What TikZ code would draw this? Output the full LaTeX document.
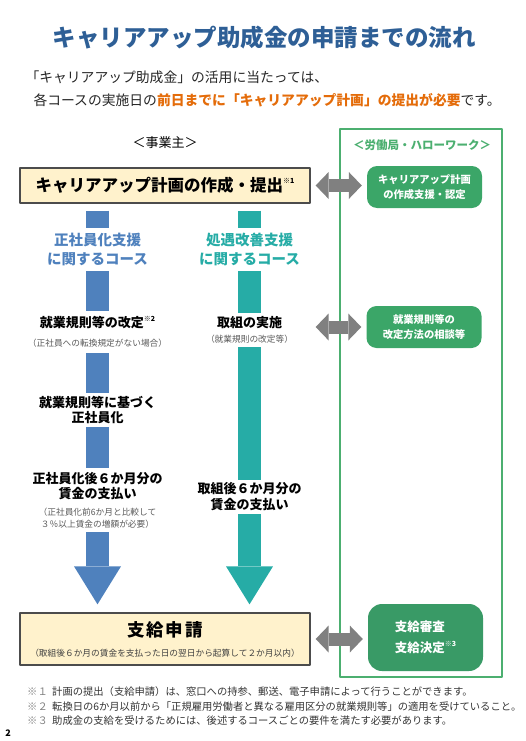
\documentclass[tikz,border=0pt]{standalone}
\usepackage{fontspec}
\setmainfont{Noto Sans CJK JP}
\usetikzlibrary{arrows.meta}
\definecolor{titleblue}{RGB}{46,95,150}
\definecolor{barblue}{RGB}{79,129,189}
\definecolor{barteal}{RGB}{38,172,166}
\definecolor{boxgreen}{RGB}{59,166,104}
\definecolor{boxgreendark}{RGB}{57,154,102}
\definecolor{framegreen}{RGB}{76,175,112}
\definecolor{planyellow}{RGB}{255,242,204}
\definecolor{notegray}{RGB}{89,89,89}
\definecolor{accent}{RGB}{228,108,10}
\newcommand\noteref[1]{\raisebox{0.5em}{\fontsize{7}{7}\selectfont ※#1}}
\newcommand\notefont{\fontsize{8.7}{10}\selectfont\mdseries\color{notegray}}
\newcommand\notemark[1]{\makebox[25pt][l]{\color{black!50}#1}}

\begin{document}
\begin{tikzpicture}[x=1pt,y=-1pt,line join=round,
  stepnode/.style={inner sep=0pt,align=center,font=\fontsize{13}{15}\selectfont\bfseries},
  coursenode/.style={inner sep=0pt,align=center,minimum height=43pt,font=\fontsize{14.5}{19}\selectfont\bfseries},
  office/.style={fill=boxgreen,rounded corners=10pt,minimum width=115pt,minimum height=42pt,inner sep=0pt,align=center,text=white,font=\fontsize{10.3}{15}\selectfont\bfseries},
  yellowbox/.style={draw=black!70,line width=1.3pt,fill=planyellow,minimum width=290pt,inner sep=0pt},
  barA/.style={draw=barblue,line width=23pt},
  barB/.style={draw=barteal,line width=23pt},
  bighead/.style={-{Triangle[width=47pt,length=38pt,line width=0pt]}},
  twoway/.style={draw=black!50,line width=13pt,{Triangle[width=27pt,length=13pt,line width=0pt]}-{Triangle[width=27pt,length=13pt,line width=0pt]},shorten <=5pt,shorten >=5pt},
  fnote/.style={anchor=west,inner sep=0pt,font=\fontsize{10.3}{12}\selectfont,text=black!80}]
  \useasboundingbox (0,0) rectangle (525,741);
  % heading
  \node[font=\fontsize{23.5}{28}\selectfont\bfseries,text=titleblue] (title) at (264,38) {キャリアアップ助成金の申請までの流れ};
  \node[anchor=west,font=\fontsize{13.8}{16}\selectfont,text=black!85] (intro1) at (22,77) {「キャリアアップ助成金」の活用に当たっては、};
  \node[anchor=west,font=\fontsize{13.8}{16}\selectfont,text=black!85] (intro2) at (30,100) {各コースの実施日の\textcolor{accent}{\bfseries 前日までに「キャリアアップ計画」の提出が必要}です。};
  \node[font=\fontsize{13}{15}\selectfont] (employer) at (165,143) {＜事業主＞};
  \draw[framegreen,line width=1.2pt] (340,129) rectangle (502,677);
  \node[text=framegreen,font=\fontsize{11.5}{14}\selectfont\bfseries] (bureau) at (422,145) {＜労働局・ハローワーク＞};
  % plan
  \node[yellowbox,minimum height=35pt,font=\fontsize{16.5}{20}\selectfont\bfseries] (plan) at (165,185.5) {キャリアアップ計画の作成・提出\noteref{1}};
  \node[office] (support1) at (424.5,187) {キャリアアップ計画\\の作成支援・認定};
  \draw[twoway] (plan.east) -- (plan.east -| support1.west);
  % two courses
  \node[coursenode,text=barblue] (courseA) at (97.5,249.5) {正社員化支援\\に関するコース};
  \node[coursenode,text=barteal] (courseB) at (249.5,249.5) {処遇改善支援\\に関するコース};
  \node[stepnode,minimum height=42pt] (a1) at (97.5,332) {就業規則等の改定\noteref{2}\\[4pt]{\notefont （正社員への転換規定がない場合）}};
  \node[stepnode,minimum height=34pt] (a2) at (97.5,410) {就業規則等に基づく\\正社員化};
  \node[stepnode,minimum height=64pt] (a3) at (97.5,500) {正社員化後６か月分の\\賃金の支払い\\[2pt]{\notefont （正社員化前6か月と比較して}\\[-3pt]{\notefont ３％以上賃金の増額が必要）}};
  \node[stepnode,minimum height=34pt] (b1) at (249.5,330) {取組の実施\\{\notefont （就業規則の改定等）}};
  \node[stepnode,minimum height=34pt] (b3) at (249.5,497) {取組後６か月分の\\[1pt]賃金の支払い};
  \node[office] (support2) at (424,327) {就業規則等の\\改定方法の相談等};
  \draw[twoway] (support2.west -| plan.east) -- (support2.west);
  % application
  \node[yellowbox,minimum height=52pt,align=center,font=\fontsize{17.5}{19}\selectfont\bfseries] (apply) at (165,639) {支\hspace{2pt}給\hspace{2pt}申\hspace{2pt}請\\[1pt]{\notefont\color{black!75}（取組後６か月の賃金を支払った日の翌日から起算して２か月以内）}};
  \node[office,fill=boxgreendark,minimum height=67pt,rounded corners=14pt,align=left,font=\fontsize{12.5}{21}\selectfont\bfseries] (decide) at (425.5,637.5) {支給審査\\支給決定\noteref{3}};
  \draw[twoway] (apply.east) -- (apply.east -| decide.west);
  % bars
  \draw[barA,shorten <=7pt] (plan.south -| courseA) -- (courseA.north);
  \draw[barA] (courseA.south) -- (a1.north);
  \draw[barA] (a1.south) -- (a2.north);
  \draw[barA] (a2.south) -- (a3.north);
  \draw[barA,bighead,shorten >=8pt] (a3.south) -- (a3.south |- apply.north);
  \draw[barB,shorten <=7pt] (plan.south -| courseB) -- (courseB.north);
  \draw[barB] (courseB.south) -- (b1.north);
  \draw[barB] (b1.south) -- (b3.north);
  \draw[barB,bighead,shorten >=8pt] (b3.south) -- (b3.south |- apply.north);
  % notes
  \node[fnote] (fn1) at (27,692) {\notemark{※１}計画の提出（支給申請）は、窓口への持参、郵送、電子申請によって行うことができます。};
  \node[fnote] (fn2) at (27,707) {\notemark{※２}転換日の6か月以前から「正規雇用労働者と異なる雇用区分の就業規則等」の適用を受けていること。};
  \node[fnote] (fn3) at (27,721) {\notemark{※３}助成金の支給を受けるためには、後述するコースごとの要件を満たす必要があります。};
  \node[font=\fontsize{9}{10}\selectfont\bfseries] (page) at (8,733) {2};
\end{tikzpicture}
\end{document}
